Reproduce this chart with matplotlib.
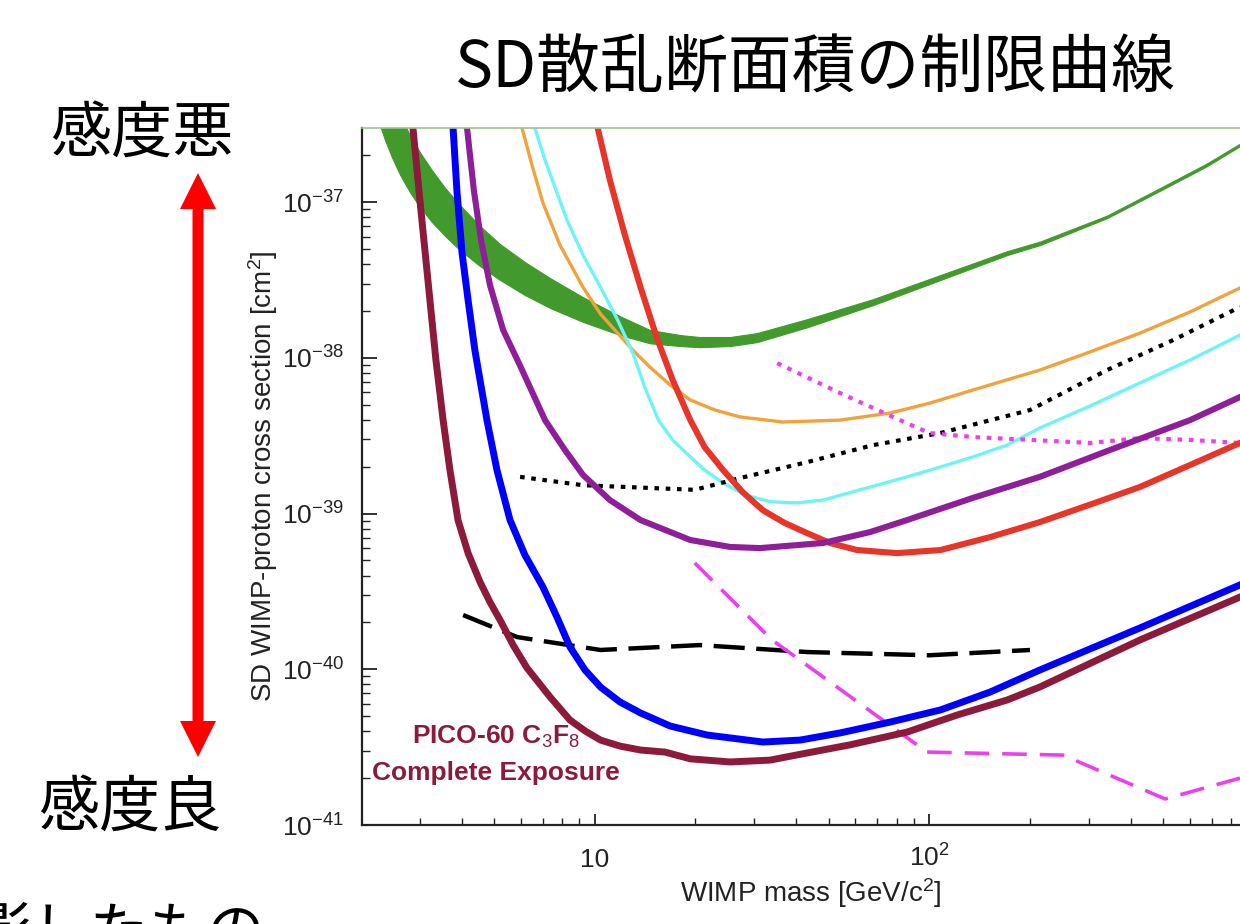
import numpy as np
import matplotlib.pyplot as plt
from matplotlib.patches import Polygon
from matplotlib.ticker import FixedLocator, LogLocator, NullFormatter

plt.rcParams['font.family'] = ['Liberation Sans', 'DejaVu Sans']
plt.rcParams['mathtext.fontset'] = 'custom'
plt.rcParams['mathtext.rm'] = 'Liberation Sans'
plt.rcParams['mathtext.it'] = 'Liberation Sans:italic'
plt.rcParams['mathtext.bf'] = 'Liberation Sans:bold'

# --- limit curves, WIMP mass [GeV/c^2] vs SD cross section [cm^2] ---
pico_mass = [2.86, 3.00, 3.17, 3.35, 3.52, 3.69, 3.90, 4.18, 4.54, 4.86, 5.21, 5.70, 6.27, 7.35, 8.43, 9.35,
             10.4, 11.9, 13.7, 16.2, 19.3, 25.4, 33.4, 43.1, 57.9, 85.8, 121, 171, 214, 426, 849]
pico_xs = [2.99e-37, 1.03e-37, 3.16e-38, 9.68e-39, 3.98e-39, 1.90e-39, 9.08e-40, 5.57e-40, 3.63e-40, 2.70e-40,
           2.07e-40, 1.43e-40, 1.02e-40, 6.64e-41, 4.72e-41, 4.02e-41, 3.51e-41, 3.21e-41, 3.03e-41, 2.94e-41,
           2.66e-41, 2.54e-41, 2.61e-41, 2.90e-41, 3.27e-41, 3.95e-41, 5.08e-41, 6.35e-41, 7.69e-41, 1.54e-40,
           2.91e-40]

blue_mass = [3.77, 3.87, 4.01, 4.18, 4.38, 4.76, 5.10, 5.58, 6.18, 7.00, 7.71, 8.43, 9.35, 10.4, 11.9, 13.7,
             16.8, 21.7, 31.8, 41.1, 54.1, 76.3, 108, 152, 214, 426, 849]
blue_xs = [2.99e-37, 1.19e-37, 4.71e-38, 2.35e-38, 1.12e-38, 3.98e-39, 1.90e-39, 9.08e-40, 5.42e-40, 3.37e-40,
           2.16e-40, 1.39e-40, 9.89e-41, 7.69e-41, 6.16e-41, 5.24e-41, 4.32e-41, 3.78e-41, 3.41e-41, 3.51e-41,
           3.90e-41, 4.58e-41, 5.48e-41, 7.14e-41, 9.89e-41, 1.84e-40, 3.48e-40]

purple_mass = [4.15, 4.35, 4.57, 4.86, 5.32, 5.97, 7.10, 8.14, 9.22, 11.1, 13.7, 19.3, 25.4, 31.2, 48.1, 66.5,
               85.8, 135, 214, 347, 602, 849]
purple_xs = [2.99e-37, 1.19e-37, 5.70e-38, 2.93e-38, 1.51e-38, 8.97e-39, 3.98e-39, 2.56e-39, 1.77e-39, 1.22e-39,
             9.08e-40, 6.76e-40, 6.10e-40, 6.00e-40, 6.47e-40, 7.60e-40, 9.08e-40, 1.26e-39, 1.72e-39, 2.56e-39,
             3.98e-39, 5.60e-39]

red_mass = [10.2, 11.1, 12.3, 13.7, 15.3, 17.1, 19.3, 21.3, 24.2, 27.7, 31.8, 37.0, 43.1, 50.5, 60.8, 80.1,
            108, 152, 214, 302, 426, 602, 849]
red_xs = [2.99e-37, 1.38e-37, 6.14e-38, 2.84e-38, 1.36e-38, 7.19e-39, 3.98e-39, 2.67e-39, 1.90e-39, 1.37e-39,
          1.05e-39, 8.69e-40, 7.49e-40, 6.47e-40, 5.83e-40, 5.57e-40, 5.83e-40, 7.06e-40, 8.81e-40, 1.14e-39,
          1.48e-39, 2.05e-39, 2.84e-39]

orange_mass = [6.06, 6.49, 7.00, 7.87, 9.22, 10.4, 11.7, 13.0, 14.6, 16.8, 19.3, 22.9, 27.2, 36.5, 54.1, 76.3,
               100.5, 135, 214, 302, 426, 602, 849]
orange_xs = [2.99e-37, 1.73e-37, 9.85e-38, 5.29e-38, 2.84e-38, 1.91e-38, 1.44e-38, 1.12e-38, 8.73e-39, 6.69e-39,
             5.36e-39, 4.62e-39, 4.17e-39, 3.87e-39, 3.98e-39, 4.42e-39, 5.12e-39, 6.21e-39, 8.34e-39, 1.09e-38,
             1.44e-38, 1.97e-38, 2.81e-38]

cyan_mass = [6.62, 7.10, 7.66, 8.26, 9.22, 10.4, 11.7, 13.0, 14.1, 15.5, 17.1, 19.3, 21.3, 24.2, 28.1, 33.4,
             40.2, 48.1, 62.1, 85.8, 108, 135, 171, 214, 302, 426, 602, 849]
cyan_xs = [2.99e-37, 1.86e-37, 1.19e-37, 7.66e-38, 4.57e-38, 2.84e-38, 1.75e-38, 1.07e-38, 6.49e-39, 3.98e-39,
           2.96e-39, 2.31e-39, 1.90e-39, 1.57e-39, 1.32e-39, 1.19e-39, 1.17e-39, 1.22e-39, 1.42e-39, 1.72e-39,
           1.99e-39, 2.31e-39, 2.75e-39, 3.54e-39, 4.90e-39, 6.89e-39, 9.68e-39, 1.40e-38]

dot_mass = [5.98, 9.22, 14.6, 19.9, 27.2, 43.2, 67.9, 108, 200, 340, 536, 849]
dot_xs = [1.72e-39, 1.52e-39, 1.46e-39, 1.42e-39, 1.69e-39, 2.14e-39, 2.75e-39, 3.29e-39, 4.62e-39, 8.34e-39,
          1.30e-38, 2.12e-38]

dash_mass = [4.04, 5.86, 10.4, 20.6, 43.2, 100, 200]
dash_xs = [2.23e-40, 1.61e-40, 1.33e-40, 1.43e-40, 1.29e-40, 1.23e-40, 1.33e-40]

mdot_mass = [35.1, 54.1, 81.7, 100, 135, 303, 426, 601, 849]
mdot_xs = [9.24e-39, 5.94e-39, 3.98e-39, 3.29e-39, 3.10e-39, 2.84e-39, 3.05e-39, 2.97e-39, 2.84e-39]

mdash_mass = [19.9, 33.9, 98.4, 251, 507, 849]
mdash_xs = [4.81e-40, 1.54e-40, 2.94e-41, 2.81e-41, 1.47e-41, 2.00e-41]

band_mass = [2.25, 2.36, 2.48, 2.62, 2.80, 3.00, 3.26, 3.57, 3.95, 4.54, 5.21, 6.18, 7.35, 9.22, 11.9, 14.6,
             18.0, 20.6, 25.4, 30.5, 43.1, 67.9, 108, 171, 214, 340, 500, 676, 909]
band_low = [3.37e-37, 2.50e-37, 1.92e-37, 1.49e-37, 1.16e-37, 9.29e-38, 7.44e-38, 6.05e-38, 4.92e-38, 3.88e-38,
            3.16e-38, 2.53e-38, 2.09e-38, 1.70e-38, 1.40e-38, 1.24e-38, 1.19e-38, 1.17e-38, 1.19e-38, 1.26e-38,
            1.57e-38, 2.18e-38, 3.16e-38, 4.57e-38, 5.29e-38, 7.89e-38, 1.21e-37, 1.70e-37, 2.50e-37]
band_high = [8.17e-37, 6.54e-37, 4.86e-37, 3.62e-37, 2.69e-37, 2.09e-37, 1.60e-37, 1.23e-37, 9.57e-38, 7.01e-38,
             5.37e-38, 4.12e-38, 3.25e-38, 2.45e-38, 1.85e-38, 1.51e-38, 1.40e-38, 1.36e-38, 1.36e-38, 1.44e-38,
             1.77e-38, 2.38e-38, 3.40e-38, 4.84e-38, 5.57e-38, 8.19e-38, 1.26e-37, 1.77e-37, 2.59e-37]

fig = plt.figure(figsize=(12.4, 9.24), dpi=100)
ax = fig.add_axes([362 / 1240, 99 / 924, 878 / 1240, 697 / 924])
ax.set_xscale('log')
ax.set_yscale('log')

ax.fill_between(band_mass, band_low, band_high, color='#429a2c', lw=0.8, edgecolor='#429a2c')
ax.plot(orange_mass, orange_xs, color='#f2a23c', lw=2.4)
ax.plot(cyan_mass, cyan_xs, color='#6ef4f4', lw=2.4)
ax.plot(dot_mass, dot_xs, color='black', lw=3, dashes=(1.1, 1.6))
ax.plot(mdot_mass, mdot_xs, color='#ec40ee', lw=3, dashes=(1.1, 1.6))
ax.plot(red_mass, red_xs, color='#e8352a', lw=4.4)
ax.plot(purple_mass, purple_xs, color='#8e1f99', lw=4.4)
ax.plot(dash_mass, dash_xs, color='black', lw=3.2, dashes=(7, 2.6))
ax.plot(mdash_mass, mdash_xs, color='#ec40ee', lw=2.6, dashes=(6.8, 3.6))
ax.plot(blue_mass, blue_xs, color='#0000ff', lw=5)
ax.plot(pico_mass, pico_xs, color='#8c1b3b', lw=5)

ax.set_xlim(2.014, 849)
ax.set_ylim(1e-41, 2.99e-37)

ax.xaxis.set_major_locator(FixedLocator([10, 100]))
ax.set_xticklabels(['10', r'$10^2$'])
ax.xaxis.set_minor_locator(LogLocator(base=10, subs=np.arange(2, 10)))
ax.xaxis.set_minor_formatter(NullFormatter())
ax.yaxis.set_major_locator(LogLocator(base=10, numticks=10))
ax.yaxis.set_minor_locator(LogLocator(base=10, subs=np.arange(2, 10), numticks=10))
ax.yaxis.set_minor_formatter(NullFormatter())

ax.tick_params(axis='both', which='both', direction='in', top=False, right=False,
               labelsize=19, colors='#222222')
ax.tick_params(axis='y', which='major', length=11, width=1.3, pad=13)
ax.tick_params(axis='y', which='minor', length=6, width=1)
ax.tick_params(axis='x', which='major', length=8, width=1.3, pad=30)
ax.tick_params(axis='x', which='minor', length=5, width=1)
plt.setp(ax.get_xticklabels(), va='baseline')

for side in ['left', 'bottom']:
    ax.spines[side].set_linewidth(1.6)
    ax.spines[side].set_color('#222222')
ax.spines['right'].set_visible(False)
ax.spines['top'].set_color('#9cc28f')
ax.spines['top'].set_linewidth(1.2)

ax.set_xlabel(r'WIMP mass [GeV/c$^2$]', fontsize=20, color='#222222')
ax.xaxis.set_label_coords(0.511, -0.074)
ax.set_ylabel(r'SD WIMP-proton cross section [cm$^2$]', fontsize=20, color='#222222')
ax.yaxis.set_label_coords(-0.093, 0.50)

ax.text(0.057, 0.116, r'PICO-60 C$_3$F$_8$', transform=ax.transAxes, fontsize=19,
        fontweight='bold', color='#8c1b3b', ha='left', va='baseline')
ax.text(0.011, 0.065, 'Complete Exposure', transform=ax.transAxes, fontsize=19,
        fontweight='bold', color='#8c1b3b', ha='left', va='baseline')

jp = ['Noto Sans CJK JP', 'DejaVu Sans']
fig.text(815 / 1240, 1 - 69 / 924, 'SD散乱断面積の制限曲線', fontsize=46, family=jp,
         ha='center', va='center')
fig.text(142 / 1240, 1 - 135 / 924, '感度悪', fontsize=44, family=jp, ha='center', va='center')
fig.text(130 / 1240, 1 - 809 / 924, '感度良', fontsize=44, family=jp, ha='center', va='center')
fig.text(-26 / 1240, 1 - 903 / 924, '影したもの', fontsize=42, family=jp, ha='left', va='top')

# double-headed red arrow (pixel outline -> figure fraction)
arrow_px = [(198, 173), (216, 209), (203.5, 209), (203.5, 721), (216, 721), (198, 757),
            (180, 721), (192.5, 721), (192.5, 209), (180, 209)]
arrow_fig = [(px / 1240, 1 - py / 924) for px, py in arrow_px]
fig.add_artist(Polygon(arrow_fig, closed=True, facecolor='#ff0000', edgecolor='none',
                       transform=fig.transFigure))

fig.savefig('out.png', dpi=100)
